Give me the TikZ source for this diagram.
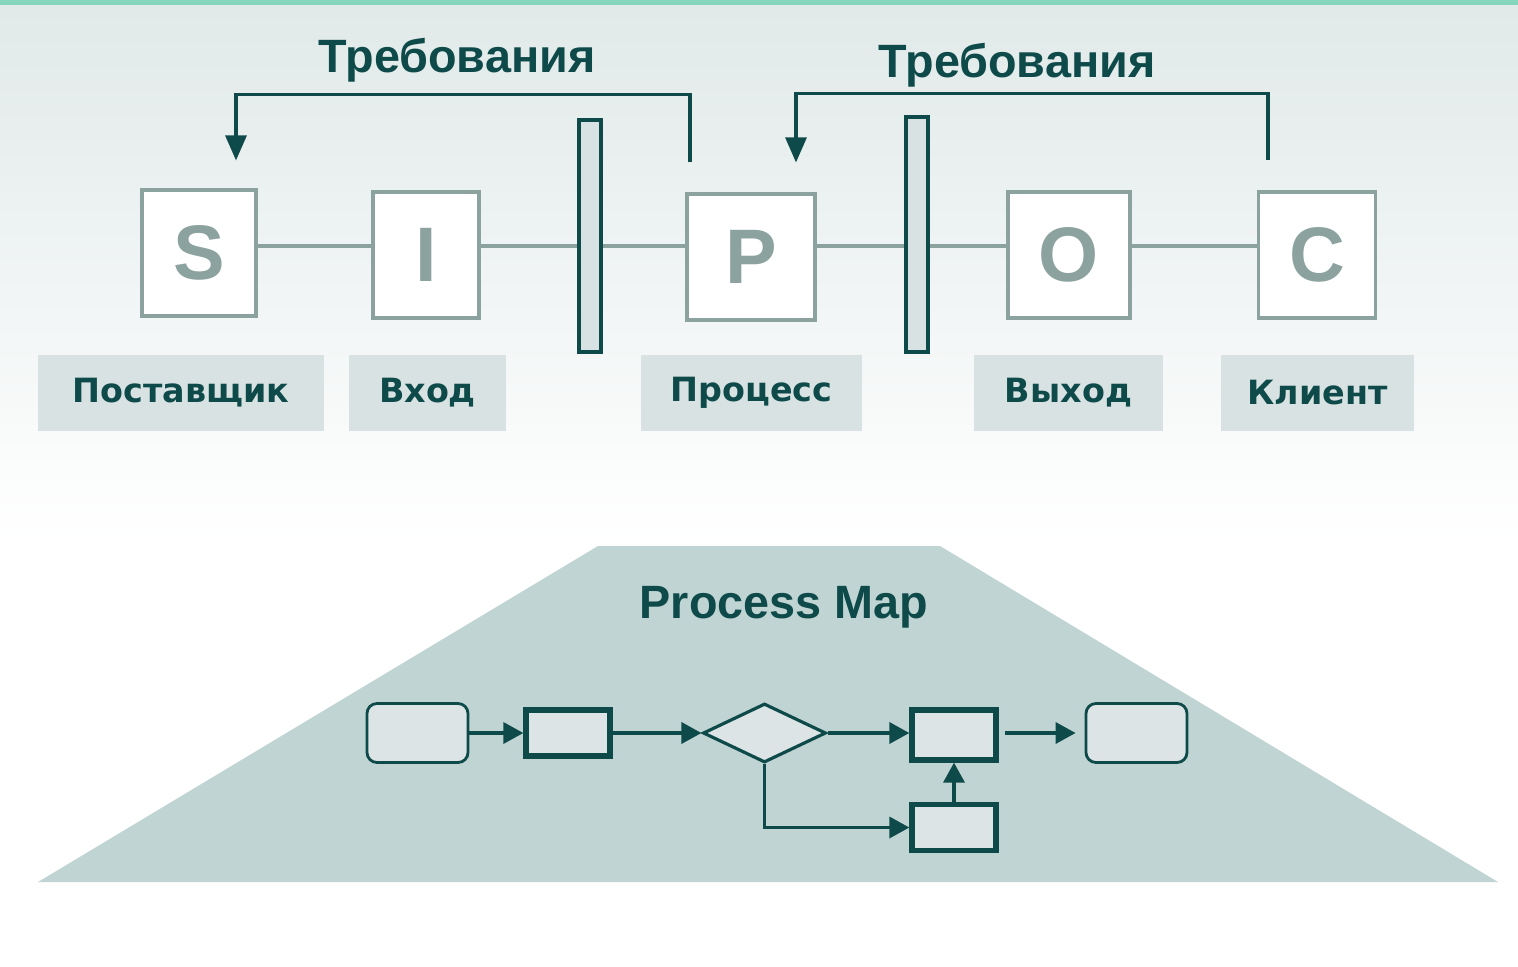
\documentclass[tikz,border=0pt]{standalone}
\usepackage{fontspec}
\setmainfont{Liberation Sans}
\newfontfamily\lblfont{DejaVu Sans}
\usepackage{tikz}
\usetikzlibrary{arrows.meta,positioning,calc,shapes.geometric}
\definecolor{sband}{RGB}{134,214,190}
\definecolor{sbg}{RGB}{225,233,233}
\definecolor{sdark}{RGB}{14,74,74}
\definecolor{sgray}{RGB}{140,162,158}
\definecolor{slabel}{RGB}{217,226,226}
\definecolor{strap}{RGB}{192,212,211}
\definecolor{sfill}{RGB}{220,228,229}
\tikzset{
  letter/.style={rectangle, draw=sgray, line width=0.9pt, fill=white,
                 minimum height=1.26cm, inner sep=0pt, text=sgray,
                 font=\fontsize{22}{22}\selectfont\bfseries},
  lbl/.style   ={rectangle, fill=slabel, minimum height=0.76cm, inner sep=0pt,
                 text=sdark, font=\lblfont\fontsize{9.5}{11}\selectfont\bfseries},
  pipe/.style  ={rectangle, draw=sdark, fill=slabel, line width=1.1pt,
                 minimum width=0.22cm, inner sep=0pt},
  req/.style   ={text=sdark, font=\fontsize{13.3}{15}\selectfont\bfseries},
  link/.style  ={draw=sgray, line width=1pt},
  ra/.style    ={-{Triangle[length=0.25cm, width=0.21cm]}, draw=sdark, line width=0.9pt},
  term/.style  ={rectangle, rounded corners=0.1cm, draw=sdark, fill=sfill,
                 line width=0.8pt, minimum width=1.01cm, minimum height=0.59cm},
  act/.style   ={rectangle, draw=sdark, fill=sfill, line width=1.5pt,
                 minimum width=0.84cm, minimum height=0.46cm},
  dec/.style   ={diamond, draw=sdark, fill=sfill, line width=0.9pt, inner sep=0pt,
                 minimum width=1.23cm, minimum height=0.59cm},
  pa/.style    ={-{Triangle[length=0.2cm, width=0.21cm]}, draw=sdark, line width=1pt}
}
\begin{document}
\begin{tikzpicture}
\useasboundingbox (0,0) rectangle (15.18,-9.67);
\fill[white] (0,0) rectangle (15.18,-9.67);
\shade[top color=sbg, bottom color=white] (0,-0.05) rectangle (15.18,-5.4);
\fill[sband] (0,0) rectangle (15.18,-0.055);

\node[letter, minimum width=1.14cm] (S) at (1.99,-2.53) {S};
\node[letter, minimum width=1.06cm] (I) at (4.26,-2.55) {I};
\node[letter, minimum width=1.28cm] (P) at (7.51,-2.57) {P};
\node[letter, minimum width=1.22cm] (O) at (10.69,-2.55) {O};
\node[letter, minimum width=1.17cm] (C) at (13.17,-2.55) {C};
\node[pipe, minimum height=2.32cm] (pipeA) at (5.90,-2.36) {};
\node[pipe, minimum height=2.35cm] (pipeB) at (9.17,-2.345) {};

\coordinate (mid) at (0,-2.46);
\draw[link] (S.east |- mid) -- (I.west |- mid);
\draw[link] (I.east |- mid) -- (pipeA.west |- mid);
\draw[link] (pipeA.east |- mid) -- (P.west |- mid);
\draw[link] (P.east |- mid) -- (pipeB.west |- mid);
\draw[link] (pipeB.east |- mid) -- (O.west |- mid);
\draw[link] (O.east |- mid) -- (C.west |- mid);

\node[lbl, minimum width=2.86cm] (lS) at (1.81,-3.93) {Поставщик};
\node[lbl, minimum width=1.57cm] (lI) at (4.275,-3.93) {Вход};
\node[lbl, minimum width=2.21cm] (lP) at (7.515,-3.93) {Процесс};
\node[lbl, minimum width=1.89cm] (lO) at (10.685,-3.93) {Выход};
\node[lbl, minimum width=1.93cm] (lC) at (13.175,-3.93) {Клиент};

\node[req] (reqL) at (4.57,-0.60) {Требования};
\node[req] (reqR) at (10.17,-0.65) {Требования};
\draw[ra] ([shift={(-0.61,0.3)}]P.north) -- ++(0,0.68) -| ([shift={(0.37,0.28)}]S.north);
\draw[ra] ([shift={(-0.49,0.3)}]C.north) -- ++(0,0.67) -| ([shift={(0.45,0.3)}]P.north);

\fill[strap] (5.98,-5.46) -- (9.40,-5.46) -- (14.98,-8.82) -- (0.38,-8.82) -- cycle;
\node[req] (pmap) at (7.84,-6.07) {Process Map};

\node[term] (t1) at (4.175,-7.33) {};
\node[act] (a1) at (5.68,-7.33) {};
\node[dec] (d1) at (7.645,-7.33) {};
\node[act, minimum height=0.50cm] (a2) at (9.54,-7.35) {};
\node[act] (a3) at (9.54,-8.275) {};
\node[term] (t2) at (11.365,-7.33) {};
\draw[pa] (t1) -- (a1);
\draw[pa] (a1) -- (d1);
\draw[pa] (d1.east) -- (d1.east -| a2.west);
\draw[pa, shorten <=0.06cm, shorten >=0.09cm] (a2.east |- t2.west) -- (t2.west);
\draw[pa] (d1.south) |- (a3.west);
\draw[pa] (a3) -- (a2);
\end{tikzpicture}
\end{document}
